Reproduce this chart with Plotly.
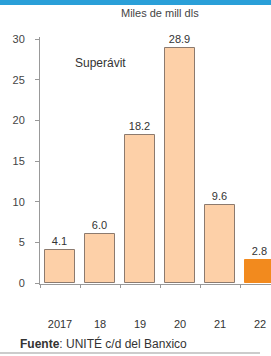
import plotly.graph_objects as go

categories = ["2017", "18", "19", "20", "21", "22"]
values = [4.1, 6.0, 18.2, 28.9, 9.6, 2.8]
labels = ["4.1", "6.0", "18.2", "28.9", "9.6", "2.8"]
y_ticks = [0, 5, 10, 15, 20, 25, 30]

FONT = "Liberation Sans, Arial, sans-serif"
W, H = 271, 356

fills = ["#FDD0A8"] * 5 + ["#F28A1E"]
lines = ["#8C7A6E"] * 5 + ["#F28A1E"]
xs = list(range(len(categories)))

fig = go.Figure(go.Bar(
    x=xs, y=values, width=0.75,
    marker=dict(color=fills, line=dict(color=lines, width=1)),
    text=labels, textposition="outside", cliponaxis=False,
    textfont=dict(family=FONT, size=11, color="#333333"),
    hoverinfo="skip",
))

fig.update_layout(
    width=W, height=H,
    margin=dict(l=40, r=0, t=37, b=72),
    paper_bgcolor="white", plot_bgcolor="white",
    showlegend=False, bargap=0,
    font=dict(family=FONT, size=11, color="#444444"),
    xaxis=dict(
        range=[-0.5, 5.275], tickvals=xs, ticktext=categories,
        ticks="", showgrid=False, zeroline=False,
        showline=True, linecolor="#999999", linewidth=1,
        ticklabelstandoff=30,
        tickfont=dict(family=FONT, size=11, color="#333333"),
        minor=dict(tick0=-0.5, dtick=1, ticks="outside", ticklen=3, tickcolor="#999999"),
    ),
    yaxis=dict(
        range=[-0.12, 30.25], tickvals=y_ticks,
        ticks="outside", ticklen=4, tickcolor="#999999",
        showgrid=False, zeroline=False,
        showline=True, linecolor="#999999", linewidth=1,
        tickfont=dict(family=FONT, size=11, color="#444444"),
        ticklabelstandoff=8,
    ),
    shapes=[
        dict(type="rect", xref="paper", yref="paper",
             x0=-40 / 231, x1=1, y0=1 + 32 / 247, y1=1 + 38 / 247,
             fillcolor="#2A9FD8", line=dict(width=0)),
        dict(type="line", xref="paper", yref="paper",
             x0=-40 / 231, x1=220 / 231, y0=-69 / 247, y1=-69 / 247,
             line=dict(color="#BBBBBB", width=1.5)),
    ],
    annotations=[
        dict(text="Miles de mill dls", xref="paper", yref="paper",
             x=(160 - 40) / 231, y=1 + 24 / 247, xanchor="center", yanchor="middle",
             showarrow=False, font=dict(family=FONT, size=11, color="#444444")),
        dict(text="Superávit", xref="paper", yref="paper",
             x=(73 - 40) / 231, y=1 - (63 - 37) / 247, xanchor="left", yanchor="middle",
             showarrow=False, font=dict(family=FONT, size=12, color="#333333")),
        dict(text="<b>Fuente</b>: UNITÉ c/d del Banxico", xref="paper", yref="paper",
             x=(18 - 40) / 231, y=-(343 - 284) / 247, xanchor="left", yanchor="middle",
             showarrow=False, font=dict(family=FONT, size=12, color="#333333")),
    ],
)

fig.write_html("out.html", config={"displayModeBar": False},
               post_script="document.body.style.margin='0';")
